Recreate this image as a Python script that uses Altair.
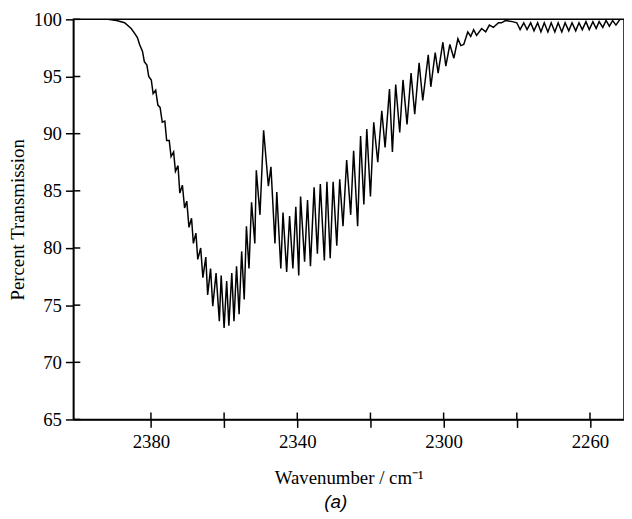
import altair as alt
import pandas as pd

# (wavenumber cm^-1, percent transmission) turning points
head = [(2401.2, 100.0), (2391.8, 100.0), (2389.4, 99.9), (2387.2, 99.7),
        (2385.4, 99.2), (2384.5, 98.8)]

r_branch = [
    (2383.7, 98.4), (2383.1, 97.8), (2382.3, 97.2), (2381.8, 96.3), (2381.1, 96.0),
    (2380.6, 95.0), (2379.9, 94.7), (2379.4, 93.5), (2378.7, 93.8), (2378.1, 92.5),
    (2377.5, 92.3), (2376.9, 91.0), (2376.2, 91.1), (2375.7, 89.4), (2375.0, 89.4),
    (2374.5, 88.0), (2373.8, 88.4), (2373.3, 86.7), (2372.6, 87.2), (2372.1, 84.8),
    (2371.4, 85.5), (2370.8, 83.5), (2370.2, 84.1), (2369.6, 81.8), (2368.9, 82.6),
    (2368.4, 80.4), (2367.7, 81.3), (2367.2, 79.0), (2366.4, 80.0), (2365.8, 77.4),
    (2365.0, 79.2), (2364.5, 75.9), (2363.7, 78.2), (2363.1, 74.9), (2362.2, 77.8),
    (2361.3, 73.6), (2360.8, 77.6), (2360.0, 73.0), (2359.3, 77.1), (2358.7, 73.2),
    (2357.9, 77.8), (2357.3, 73.6), (2356.6, 78.4), (2355.9, 74.2), (2355.2, 79.7),
    (2354.5, 75.5), (2353.9, 81.9), (2353.2, 78.2), (2352.5, 84.0), (2351.6, 80.4),
    (2351.2, 86.8), (2350.2, 82.9), (2349.2, 90.3),
]

p_branch = [
    (2347.9, 85.4), (2347.2, 87.1), (2346.1, 80.4), (2345.6, 84.9), (2344.5, 78.2),
    (2343.9, 83.1), (2342.9, 77.9), (2342.1, 82.8), (2341.2, 78.2), (2340.4, 83.6),
    (2339.6, 77.6), (2339.1, 84.5), (2338.0, 78.8), (2337.2, 84.2), (2336.4, 78.4),
    (2335.4, 85.3), (2334.5, 79.5), (2333.7, 85.6), (2332.6, 78.9), (2331.9, 85.8),
    (2331.0, 79.1), (2330.2, 85.8), (2329.2, 80.2), (2328.4, 86.0), (2327.5, 81.9),
    (2326.5, 87.7), (2325.4, 82.9), (2324.6, 88.5), (2323.5, 81.9), (2322.7, 89.8),
    (2321.8, 83.8), (2321.0, 90.4), (2320.0, 84.5), (2319.1, 91.0), (2318.0, 87.5),
    (2316.9, 92.0), (2316.0, 88.8), (2314.8, 93.9), (2314.0, 88.4), (2313.1, 94.3),
    (2312.0, 90.1), (2311.1, 94.7), (2310.0, 90.8), (2308.9, 95.3), (2307.9, 91.7),
    (2306.7, 96.2), (2305.7, 92.9), (2304.2, 96.9), (2303.5, 94.1), (2302.3, 97.1),
    (2301.5, 95.3), (2300.2, 98.0), (2299.4, 95.9), (2298.3, 97.8), (2297.2, 96.6),
    (2296.1, 98.3), (2295.3, 97.7), (2294.5, 97.8), (2293.4, 98.9), (2292.6, 98.5),
    (2291.8, 99.1), (2291.0, 98.6), (2289.6, 99.2), (2288.5, 98.9), (2287.5, 99.5),
    (2286.4, 99.3), (2285.0, 99.7), (2284.2, 99.7), (2283.1, 99.9), (2281.2, 99.8),
]

tail = [
    (2280.0, 99.7), (2279.1, 99.1), (2278.1, 99.7), (2277.2, 99.1), (2276.2, 99.7),
    (2275.3, 99.0), (2274.3, 99.7), (2273.4, 98.9), (2272.5, 99.7), (2271.5, 98.9),
    (2270.6, 99.7), (2269.6, 98.9), (2268.7, 99.7), (2267.7, 98.9), (2266.8, 99.7),
    (2265.8, 99.0), (2264.9, 99.7), (2263.9, 99.0), (2263.0, 99.7), (2262.1, 99.1),
    (2261.1, 99.8), (2260.2, 99.1), (2259.2, 99.8), (2258.3, 99.2), (2257.5, 99.8),
    (2256.5, 99.3), (2255.6, 99.9), (2254.7, 99.4), (2253.8, 99.9), (2252.9, 99.5),
    (2251.8, 100.0), (2250.7, 100.0),
]

x_ticks = [2380, 2360, 2340, 2320, 2300, 2280, 2260]
y_ticks = [65, 70, 75, 80, 85, 90, 95, 100]
x_domain = [2401.2, 2250.7]
y_domain = [65, 100]

W, H = 556, 404
TICK_IN = 7
SERIF = "Liberation Serif"

df = pd.DataFrame(head + r_branch + p_branch + tail, columns=["wn", "T"])
df["order"] = range(len(df))
xt = pd.DataFrame({"wn": x_ticks})
yt = pd.DataFrame({"T": y_ticks})

x_scale = alt.Scale(domain=x_domain, nice=False, zero=False)
y_scale = alt.Scale(domain=y_domain, nice=False, zero=False)
x_axis = alt.Axis(values=x_ticks, format="d",
                  labelExpr="datum.value % 40 == 20 ? datum.label : ''",
                  title="Wavenumber / cm⁻¹",
                  tickSize=8, labelPadding=5, titlePadding=18, grid=False)
y_axis = alt.Axis(values=y_ticks, title="Percent Transmission",
                  tickSize=8, labelPadding=4, titlePadding=6, grid=False)

line = alt.Chart(df).mark_line(color="black", strokeWidth=1.5, clip=True).encode(
    x=alt.X("wn:Q", scale=x_scale, axis=x_axis),
    y=alt.Y("T:Q", scale=y_scale, axis=y_axis),
    order=alt.Order("order:Q"),
)

# inner halves of the ticks that cross the axis lines
x_inner = alt.Chart(xt).mark_rule(color="black", strokeWidth=1.5).encode(
    x=alt.X("wn:Q", scale=x_scale, axis=x_axis),
    y=alt.value(H),
    y2=alt.value(H - TICK_IN),
)
y_inner = alt.Chart(yt).mark_rule(color="black", strokeWidth=1.5).encode(
    y=alt.Y("T:Q", scale=y_scale, axis=y_axis),
    x=alt.value(0),
    x2=alt.value(TICK_IN),
)

chart = alt.layer(line, x_inner, y_inner).properties(
    width=W,
    height=H,
    padding=0,
    title=alt.TitleParams("(a)", orient="bottom", font="Liberation Sans",
                          fontStyle="italic", fontWeight="normal", fontSize=19,
                          color="black", anchor="middle", frame="group",
                          dx=-13, offset=5),
).configure_view(
    stroke="black", strokeWidth=1.5
).configure_axis(
    labelFont=SERIF, titleFont=SERIF, labelFontSize=19, titleFontSize=19,
    titleFontWeight="normal", labelColor="black", titleColor="black",
    domainColor="black", domainWidth=1.5, tickColor="black", tickWidth=1.5,
)

chart.save("out.html", embed_options={"renderer": "svg", "actions": False})
